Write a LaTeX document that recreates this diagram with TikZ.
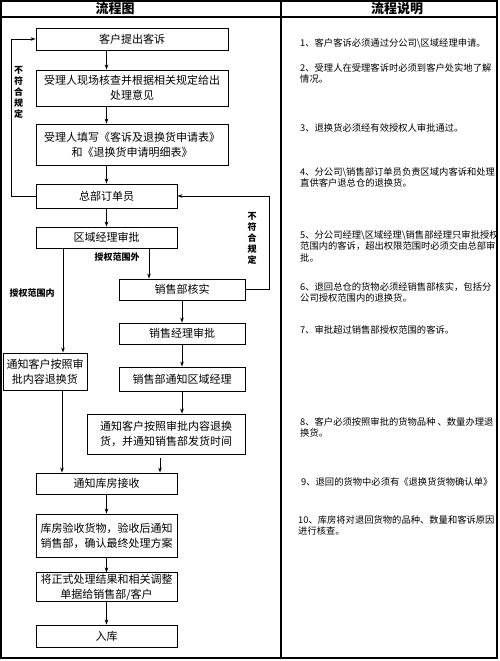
\documentclass[tikz,border=0pt]{standalone}
\usepackage{fontspec}
\setmainfont{Noto Sans CJK SC}
\usetikzlibrary{arrows.meta}

\begin{document}
\begin{tikzpicture}[
    x=1pt, y=-1pt,
    >={Stealth[length=5pt, width=3.6pt]},
    flowbox/.style={rectangle, draw=black, line width=0.9pt, align=center,
                    inner sep=1pt, font=\fontsize{11}{15}\selectfont},
    flow/.style={->, line width=0.9pt},
    rulelabel/.style={font=\fontsize{9}{11}\selectfont\bfseries, align=center,
                      inner sep=0pt},
    note/.style={font=\fontsize{9.3}{11.5}\selectfont, align=left,
                 inner sep=0pt, anchor=north west}
]
\useasboundingbox (0,0) rectangle (500,661);

% Frame of the table: two headed columns.
\draw[line width=1.3pt] (1,1) rectangle (497,658);
\draw[line width=1.1pt] (1,17) -- (497,17);
\draw[line width=1.1pt] (281,1) -- (281,658);
\node[font=\fontsize{13}{15}\selectfont\bfseries] (headflow) at (115,9) {流程图};
\node[font=\fontsize{13}{15}\selectfont\bfseries] (headnote) at (397,9) {流程说明};

% Main column of the flow.
\node[flowbox, minimum width=192, minimum height=22] (complain) at (132,39) {客户提出客诉};
\node[flowbox, minimum width=192, minimum height=36] (check) at (132,88)
    {受理人现场核查并根据相关规定给出\\处理意见};
\node[flowbox, minimum width=192, minimum height=41] (form) at (132,144.5)
    {受理人填写《客诉及退换货申请表》\\和《退换货申请明细表》};
\node[flowbox, minimum width=141, minimum height=24] (clerk) at (106.5,196) {总部订单员};
\node[flowbox, minimum width=141, minimum height=21] (region) at (106.5,237.5) {区域经理审批};

% Branch outside the authority: sales department.
\node[flowbox, minimum width=126, minimum height=21] (verify) at (182,289.5) {销售部核实};
\node[flowbox, minimum width=126, minimum height=21] (salesmgr) at (182,333.5) {销售经理审批};
\node[flowbox, minimum width=126, minimum height=24] (notifyreg) at (182,379) {销售部通知区域经理};
\node[flowbox, minimum width=158, minimum height=40] (notifyright) at (166,434)
    {通知客户按照审批内容退换\\货，并通知销售部发货时间};

% Branch inside the authority.
\node[flowbox, minimum width=84, minimum height=37] (notifyleft) at (45,371.5)
    {通知客户按照审\\批内容退换货};

% Warehouse part.
\node[flowbox, minimum width=141, minimum height=21] (store) at (106.5,483.5) {通知库房接收};
\node[flowbox, minimum width=141, minimum height=43] (accept) at (106.5,535.5)
    {库房验收货物，验收后通知\\销售部，确认最终处理方案};
\node[flowbox, minimum width=141, minimum height=28] (result) at (106.5,587)
    {将正式处理结果和相关调整\\单据给销售部/客户};
\node[flowbox, minimum width=141, minimum height=22] (inbound) at (106.5,636) {入库};

\foreach \a/\b in {complain/check, check/form, form/clerk, clerk/region,
                   store/accept, accept/result, result/inbound}
    \draw[flow] (\a.south -| clerk) -- (\b.north -| clerk);
\foreach \a/\b in {verify/salesmgr, salesmgr/notifyreg, notifyreg/notifyright}
    \draw[flow] (\a.south -| verify) -- (\b.north -| verify);

\draw[flow] ([xshift=-43.5pt]region.south) -- ([xshift=-43.5pt]region.south |- notifyleft.north);
\draw[flow] ([xshift=-33pt]verify.north |- region.south) -- ([xshift=-33pt]verify.north);
\draw[flow] ([xshift=17pt]notifyleft.south) -- ([xshift=17pt]notifyleft.south |- store.north);
\draw[flow, shorten <=4pt] ([xshift=-6pt]notifyright.south) -- ([xshift=-6pt]notifyright.south |- store.north);

% Returns when the rules are not met.
\draw[flow] (clerk.west) -- ++(-24,0) |- (complain.west);
\draw[flow] (verify.east) -- ++(24,0) |- (clerk.east);
\node[rulelabel] (backleft) at (18.5,92) {不\\符\\合\\规\\定};
\node[rulelabel] (backright) at (252,238.5) {不\\符\\合\\规\\定};
\node[rulelabel] (outside) at (117,257) {授权范围外};
\node[rulelabel] (inside) at (32,293) {授权范围内};

% Notes of the second column.
\node[note] (note1) at (300,38) {1、客户客诉必须通过分公司\textbackslash{}区域经理申请。};
\node[note] (note2) at (300,63) {2、受理人在受理客诉时必须到客户处实地了解\\情况。};
\node[note] (note3) at (300,123) {3、退换货必须经有效授权人审批通过。};
\node[note] (note4) at (300,167) {4、分公司\textbackslash{}销售部订单员负责区域内客诉和处理\\直供客户退总仓的退换货。};
\node[note] (note5) at (300,230) {5、分公司经理\textbackslash{}区域经理\textbackslash{}销售部经理只审批授权\\范围内的客诉，超出权限范围时必须交由总部审\\批。};
\node[note] (note6) at (300,282) {6、退回总仓的货物必须经销售部核实，包括分\\公司授权范围内的退换货。};
\node[note] (note7) at (300,325) {7、审批超过销售部授权范围的客诉。};
\node[note] (note8) at (300,417) {8、客户必须按照审批的货物品种 、数量办理退\\换货。};
\node[note] (note9) at (301,477) {9、退回的货物中必须有《退换货货物确认单》};
\node[note] (note10) at (298,515) {10、库房将对退回货物的品种、数量和客诉原因\\进行核查。};
\end{tikzpicture}
\end{document}
